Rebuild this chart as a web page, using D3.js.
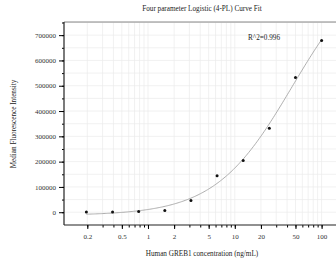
<!DOCTYPE html>
<html>
<head>
<meta charset="utf-8">
<script src="https://cdn.jsdelivr.net/npm/d3@7/dist/d3.min.js"></script>
<style>
  body { margin: 0; background: #fff; }
  svg { display: block; font-family: "Liberation Serif", "Times New Roman", serif; }
</style>
</head>
<body>
<div id="chart"></div>
<script>
// Standard curve data (2-fold dilutions)
var concentrations = [0.195, 0.391, 0.781, 1.563, 3.125, 6.25, 12.5, 25, 50, 100];
var mfi = [500, 1000, 2500, 6500, 46000, 144000, 204500, 332000, 533000, 678500];

var xLabelTicks = [0.2, 0.5, 1, 2, 5, 10, 20, 50, 100];
var yTicks = [0, 100000, 200000, 300000, 400000, 500000, 600000, 700000];
var rSquaredText = "R^2=0.996";

var width = 336, height = 268;
var margin = { top: 22, right: 0, bottom: 43, left: 64 };

var svg = d3.select("#chart").append("svg")
  .attr("width", width)
  .attr("height", height);

// scales (plot area runs off the right edge of the picture)
var x = d3.scaleLog()
  .domain([0.1078, 146.5])
  .range([margin.left, width - margin.right]);

var y = d3.scaleLinear()
  .domain([-50500, 752000])
  .range([height - margin.bottom, margin.top]);

// minor tick positions
var xMinor = [];
[-1, 0, 1, 2].forEach(function(k) {
  for (var m = 1; m <= 9; m++) {
    var v = m * Math.pow(10, k);
    if (v >= 0.11 && v <= 146) xMinor.push(v);
  }
});
var yMinor = d3.range(0, 750001, 50000);

// grid
svg.append("g")
  .selectAll("line")
  .data(xMinor)
  .enter().append("line")
  .attr("x1", function(d) { return x(d); })
  .attr("x2", function(d) { return x(d); })
  .attr("y1", margin.top)
  .attr("y2", height - margin.bottom)
  .attr("stroke", "#ebebeb")
  .attr("stroke-width", 0.7);

svg.append("g")
  .selectAll("line")
  .data(yMinor)
  .enter().append("line")
  .attr("x1", margin.left)
  .attr("x2", width)
  .attr("y1", function(d) { return y(d); })
  .attr("y2", function(d) { return y(d); })
  .attr("stroke", "#ebebeb")
  .attr("stroke-width", 0.7);

// 4PL fit: grid over slope B and midpoint C, A and D by linear least squares
function fit4pl(xs, ys) {
  var best = null;
  for (var lc = -1; lc <= 4; lc += 0.01) {
    var C = Math.pow(10, lc);
    for (var B = 0.3; B <= 4; B += 0.01) {
      var g = xs.map(function(v) { var u = Math.pow(v / C, B); return u / (1 + u); });
      var gm = d3.mean(g), ym = d3.mean(ys);
      var sxy = 0, sxx = 0;
      for (var i = 0; i < g.length; i++) {
        sxy += (g[i] - gm) * (ys[i] - ym);
        sxx += (g[i] - gm) * (g[i] - gm);
      }
      if (sxx === 0) continue;
      var S = sxy / sxx, A = ym - S * gm;
      var sse = 0;
      for (var j = 0; j < g.length; j++) {
        var r = ys[j] - (A + S * g[j]);
        sse += r * r;
      }
      if (!best || sse < best.sse) best = { A: A, S: S, B: B, C: C, sse: sse };
    }
  }
  return best;
}
var p = fit4pl(concentrations, mfi);
function model(v) {
  var u = Math.pow(v / p.C, p.B);
  return p.A + p.S * u / (1 + u);
}

var curveX = d3.range(0, 201).map(function(i) {
  var l0 = Math.log10(concentrations[0]), l1 = Math.log10(100);
  return Math.pow(10, l0 + (l1 - l0) * i / 200);
});

svg.append("path")
  .datum(curveX)
  .attr("fill", "none")
  .attr("stroke", "#9a9a9a")
  .attr("stroke-width", 0.8)
  .attr("d", d3.line()
    .x(function(d) { return x(d); })
    .y(function(d) { return y(model(d)); }));

// points
svg.append("g")
  .selectAll("circle")
  .data(concentrations)
  .enter().append("circle")
  .attr("cx", function(d) { return x(d); })
  .attr("cy", function(d, i) { return y(mfi[i]); })
  .attr("r", 1.5)
  .attr("fill", "#111");

// frame
svg.append("line")
  .attr("x1", margin.left).attr("x2", width)
  .attr("y1", margin.top).attr("y2", margin.top)
  .attr("stroke", "#888").attr("stroke-width", 1.2);

// x axis
var xAxis = svg.append("g")
  .attr("transform", "translate(0," + (height - margin.bottom) + ")");
xAxis.append("g")
  .call(d3.axisBottom(x).tickValues(xMinor).tickSize(2.5).tickFormat(""))
  .call(function(g) { g.select(".domain").remove(); });
xAxis.append("g")
  .call(d3.axisBottom(x).tickValues(xLabelTicks).tickSize(4).tickPadding(5)
    .tickFormat(function(d) { return String(d); }))
  .call(function(g) {
    g.select(".domain").attr("d", "M" + margin.left + ",0H" + width).attr("stroke", "#222").attr("stroke-width", 1.2);
    g.selectAll("text").attr("font-size", 7).attr("fill", "#333").attr("font-family", "Liberation Serif");
  });

// y axis
var yAxis = svg.append("g")
  .attr("transform", "translate(" + margin.left + ",0)");
yAxis.append("g")
  .call(d3.axisLeft(y).tickValues(yMinor).tickSize(2).tickFormat(""))
  .call(function(g) { g.select(".domain").remove(); });
yAxis.append("g")
  .call(d3.axisLeft(y).tickValues(yTicks).tickSize(5).tickPadding(3)
    .tickFormat(function(d) { return String(d); }))
  .call(function(g) {
    g.select(".domain").attr("d", "M0," + margin.top + "V" + (height - margin.bottom)).attr("stroke", "#222").attr("stroke-width", 1.2);
    g.selectAll("text").attr("font-size", 7).attr("fill", "#333").attr("font-family", "Liberation Serif");
  });

// texts
svg.append("text")
  .attr("x", 202).attr("y", 11)
  .attr("text-anchor", "middle")
  .attr("font-size", 7.2)
  .attr("fill", "#222")
  .text("Four parameter Logistic (4-PL) Curve Fit");

svg.append("text")
  .attr("x", 202).attr("y", 256)
  .attr("text-anchor", "middle")
  .attr("font-size", 7.2)
  .attr("fill", "#222")
  .text("Human GREB1 concentration (ng/mL)");

svg.append("text")
  .attr("transform", "translate(16,124) rotate(-90)")
  .attr("text-anchor", "middle")
  .attr("font-size", 7.2)
  .attr("fill", "#222")
  .text("Median Fluorescence Intensity");

svg.append("text")
  .attr("x", 248).attr("y", 39.5)
  .attr("font-size", 7.2)
  .attr("fill", "#222")
  .text(rSquaredText);
</script>
</body>
</html>
